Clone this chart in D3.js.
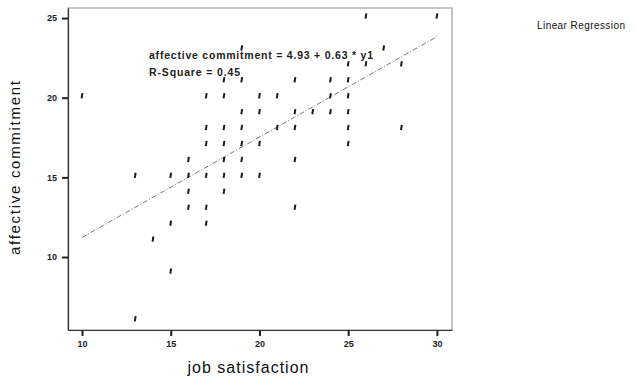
<!DOCTYPE html>
<html>
<head>
<meta charset="utf-8">
<script src="https://cdn.jsdelivr.net/npm/d3@7"></script>
<style>
  body { margin: 0; background: #fff; }
  svg { display: block; font-family: "Liberation Sans", Arial, sans-serif; }
</style>
</head>
<body>
<svg id="chart" width="637" height="382"></svg>
<script>
// job satisfaction (x) vs affective commitment (y)
const jobSatisfaction = [26, 30, 19, 27, 25, 26, 28, 18, 19, 22, 24, 25,
    10, 17, 18, 20, 21, 24, 25, 19, 20, 22, 23, 24, 25,
    17, 18, 19, 21, 22, 25, 28, 17, 18, 19, 20, 25, 16, 18, 19, 22,
    13, 15, 16, 17, 18, 19, 20, 16, 18, 16, 17, 22, 15, 17, 14, 15, 13]
const affectiveCommitment = [25, 25, 23, 23, 22, 22, 22, 21, 21, 21, 21, 21,
    20, 20, 20, 20, 20, 20, 20, 19, 19, 19, 19, 19, 19,
    18, 18, 18, 18, 18, 18, 18, 17, 17, 17, 17, 17, 16, 16, 16, 16,
    15, 15, 15, 15, 15, 15, 15, 14, 14, 13, 13, 13, 12, 12, 11, 9, 6]

const xTicks = [10, 15, 20, 25, 30]
const yTicks = [10, 15, 20, 25]

const intercept = 4.93
const slope = 0.63
const rSquare = "0.45"

const svg = d3.select("#chart")

const plot = { left: 68, right: 452, top: 8, bottom: 330 }

const x = d3.scaleLinear().domain([9.21, 30.85]).range([plot.left, plot.right])
const y = d3.scaleLinear().domain([5.42, 25.63]).range([plot.bottom, plot.top])

// frame (top/right are faint in the scan)
svg.append("rect")
    .attr("x", plot.left).attr("y", plot.top)
    .attr("width", plot.right - plot.left).attr("height", plot.bottom - plot.top)
    .attr("fill", "none").attr("stroke", "#8a8a8a").attr("stroke-width", 1)

const yAxis = svg.append("g")
    .attr("transform", `translate(${plot.left},0)`)
    .call(d3.axisLeft(y).tickValues(yTicks).tickSize(6).tickSizeOuter(0).tickPadding(5))
yAxis.select(".domain").attr("stroke", "#333").attr("stroke-width", 1.2)
yAxis.selectAll(".tick line").attr("stroke", "#222").attr("stroke-width", 2)
yAxis.selectAll(".tick text")
    .attr("font-size", 9).attr("font-weight", "bold").attr("fill", "#222")
    .attr("font-family", "Liberation Sans, Arial, sans-serif")

const xAxis = svg.append("g")
    .attr("transform", `translate(0,${plot.bottom})`)
    .call(d3.axisBottom(x).tickValues(xTicks).tickSize(6).tickSizeOuter(0).tickPadding(5))
xAxis.select(".domain").attr("stroke", "#333").attr("stroke-width", 1.2)
xAxis.selectAll(".tick line").attr("stroke", "#222").attr("stroke-width", 2)
xAxis.selectAll(".tick text")
    .attr("font-size", 9).attr("font-weight", "bold").attr("fill", "#222")
    .attr("font-family", "Liberation Sans, Arial, sans-serif")

// fit line over the observed x range
const [xMin, xMax] = d3.extent(jobSatisfaction)
svg.append("path")
    .datum([xMin, xMax])
    .attr("fill", "none")
    .attr("stroke", "#666")
    .attr("stroke-width", 0.9)
    .attr("stroke-dasharray", "5,2,1,2")
    .attr("d", d3.line().x((d) => x(d)).y((d) => y(intercept + slope * d)))

// SPSS-style tick markers
svg.append("g")
    .selectAll("path")
    .data(jobSatisfaction.map((v, i) => [v, affectiveCommitment[i]]))
    .join("path")
    .attr("transform", (d) => `translate(${x(d[0])},${y(d[1]) - 2})`)
    .attr("d", "M-0.4,2.6L0.4,-2.6")
    .attr("stroke", "#1a1a1a")
    .attr("stroke-width", 2)

svg.append("text")
    .attr("x", 149).attr("y", 59)
    .attr("font-size", 10.5).attr("font-weight", "bold").attr("fill", "#222")
    .attr("textLength", 224).attr("lengthAdjust", "spacing")
    .text(`affective commitment = ${intercept} + ${slope} * y1`)

svg.append("text")
    .attr("x", 149).attr("y", 76)
    .attr("font-size", 10.5).attr("font-weight", "bold").attr("fill", "#222")
    .attr("textLength", 91).attr("lengthAdjust", "spacing")
    .text(`R-Square = ${rSquare}`)

svg.append("text")
    .attr("x", 537).attr("y", 29)
    .attr("font-size", 10).attr("fill", "#111")
    .attr("textLength", 88).attr("lengthAdjust", "spacing")
    .text("Linear Regression")

svg.append("text")
    .attr("x", 248).attr("y", 373)
    .attr("text-anchor", "middle")
    .attr("font-size", 16).attr("fill", "#111")
    .attr("textLength", 121).attr("lengthAdjust", "spacing")
    .text("job satisfaction")

svg.append("text")
    .attr("transform", "translate(20,168) rotate(-90)")
    .attr("text-anchor", "middle")
    .attr("font-size", 15).attr("fill", "#111")
    .attr("textLength", 174).attr("lengthAdjust", "spacing")
    .text("affective commitment")
</script>
</body>
</html>
